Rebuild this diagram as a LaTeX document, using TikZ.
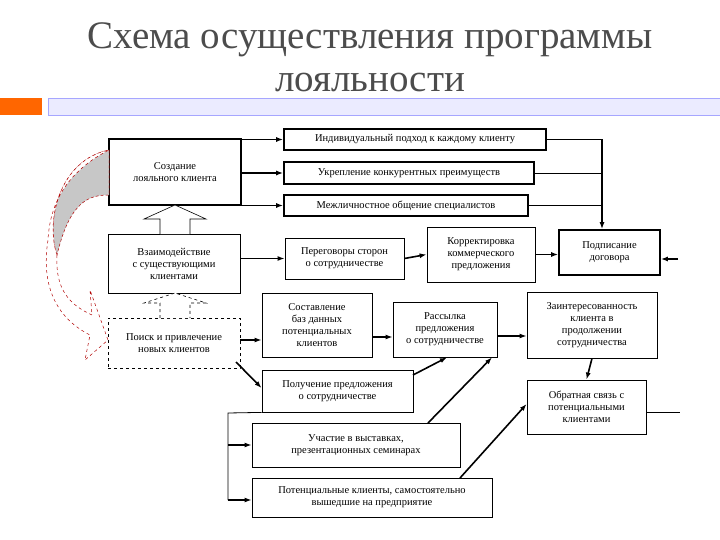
\documentclass[tikz,border=0pt]{standalone}
\usepackage{fontspec}
\setmainfont{Liberation Serif}
\usetikzlibrary{arrows.meta}
\begin{document}
\begin{tikzpicture}[x=1pt,y=-1pt,
 box/.style={draw,line width=0.8pt,fill=white,align=center,font=\fontsize{10.5}{12}\selectfont,inner sep=1pt},
 tbox/.style={box,line width=1.6pt},
 ar/.style={-{Latex[length=7pt,width=5pt]},line width=1.6pt},
 thin/.style={line width=0.8pt},
 harrow/.style={draw,line width=0.6pt,fill=white}]
\useasboundingbox (0,0) rectangle (720,540);
\fill[white] (0,0) rectangle (720,540);
% header
\node[text=black!70,font=\fontsize{39}{43}\selectfont,align=center] (title) at (370,57) {Схема осуществления программы\\лояльности};
\fill[orange!80!red] (0,98) rectangle (42,115);
\draw[fill=blue!8,draw=blue!35] (48,98) rectangle (721,115);
% nodes
\node[tbox,minimum width=132,minimum height=66] (cre) at (175,172) {Создание\\лояльного клиента};
\node[tbox,minimum width=262,minimum height=21] (ind) at (415,139.5) {Индивидуальный подход к каждому клиенту};
\node[tbox,minimum width=250,minimum height=22] (ukr) at (409,173) {Укрепление конкурентных преимуществ};
\node[tbox,minimum width=244,minimum height=21] (mez) at (406,205.5) {Межличностное общение специалистов};
\node[box,minimum width=132,minimum height=59] (vza) at (174,263.5) {Взаимодействие\\с существующими\\клиентами};
\node[box,minimum width=119,minimum height=41] (per) at (344.5,258.5) {Переговоры сторон\\о сотрудничестве};
\node[box,minimum width=108,minimum height=55] (kor) at (481,254.5) {Корректировка\\коммерческого\\предложения};
\node[tbox,minimum width=101,minimum height=45] (pod) at (609.5,252.5) {Подписание\\договора};
\node[box,dashed,minimum width=132,minimum height=50] (poi) at (174,343) {Поиск и привлечение\\новых клиентов};
\node[box,minimum width=110,minimum height=64] (sos) at (317,325) {Составление\\баз данных\\потенциальных\\клиентов};
\node[box,minimum width=104,minimum height=55] (ras) at (445,329.5) {Рассылка\\предложения\\о сотрудничестве};
\node[box,minimum width=130,minimum height=66] (zai) at (592,325) {Заинтересованность\\клиента в\\продолжении\\сотрудничества};
\node[box,minimum width=151,minimum height=42] (pol) at (337.5,391) {Получение предложения\\о сотрудничестве};
\node[box,minimum width=119,minimum height=54] (obr) at (586.5,407) {Обратная связь с\\потенциальными\\клиентами};
\node[box,minimum width=208,minimum height=44] (uch) at (356,445) {Участие в выставках,\\презентационных семинарах};
\node[box,minimum width=240,minimum height=39] (pot) at (372,497.5) {Потенциальные клиенты, самостоятельно\\вышедшие на предприятие};
% top connectors
\draw[ar] (cre.east |- ind.west) -- (ind.west);
\draw[ar] (cre.east |- ukr.west) -- (ukr.west);
\draw[ar] (cre.east |- mez.west) -- (mez.west);
\draw[thin] (ind.east) -- (602,139.5);
\draw[thin] (ukr.east) -- (602,173);
\draw[thin] (mez.east) -- (602,205.5);
\draw[ar] (602,139.5) -- (pod.north -| 602,0);
\coordinate (rin) at (678,259);
\draw[ar] (rin) -- (pod.east |- rin);
% middle row
\draw[ar] (vza.east |- per.west) -- (per.west);
\draw[ar] (per.east) -- (kor.west);
\draw[ar] (kor.east) -- (pod.west |- kor.east);
\draw[ar] (poi.east |- 0,340) -- (sos.west |- 0,340);
\draw[ar] (sos.east |- 0,337) -- (ras.west |- 0,337);
\draw[ar] (ras.east |- 0,336) -- (zai.west |- 0,336);
\draw[ar] (zai.south) -- (obr.north);
\coordinate (oend) at (680,412);
\draw[thin] (obr.east |- oend) -- (oend);
% diagonals
\coordinate (d1) at (236,362);
\draw[ar] (d1) -- (pol.west |- 0,388);
\coordinate (d2) at (413,375);
\draw[ar] (d2) -- (ras.south -| 447,0);
\coordinate (d3) at (428,423);
\draw[ar] (d3) -- (ras.south -| 492,0);
\coordinate (d4) at (460,478);
\draw[ar] (d4) -- (obr.west |- 0,404);
% bracket
\coordinate (b1) at (228,413);
\coordinate (b2) at (228,500);
\draw[thin] (pol.south west) -- (b1) -- (b2);
\draw[ar] (228,445) -- (uch.west);
\draw[ar] (b2) -- (pot.west |- b2);
% hollow block arrows
\draw[harrow] (160,234) -- (160,219) -- (144,219) -- (175,205) -- (206,219) -- (190,219) -- (190,234);
\draw[harrow,dashed] (160,318) -- (160,303) -- (144,303) -- (175,293) -- (206,303) -- (190,303) -- (190,318);
% curved arrow
\draw[red!70!black,line width=0.5pt,fill=black!22,densely dashed]
 (109,150) .. controls (60,160) and (45,220) .. (57,255)
 .. controls (70,200) and (90,195) .. (109,195) -- cycle;
\draw[red!70!black,line width=0.5pt,dashed,fill=white]
 (57,255) .. controls (55,290) and (70,305) .. (92,315)
 -- (90,290) -- (108,340) -- (85,360) -- (90,335)
 .. controls (60,320) and (40,290) .. (48,240) .. controls (50,200) and (70,170) .. (109,150)
 .. controls (60,160) and (45,220) .. (57,255);
\end{tikzpicture}
\end{document}
